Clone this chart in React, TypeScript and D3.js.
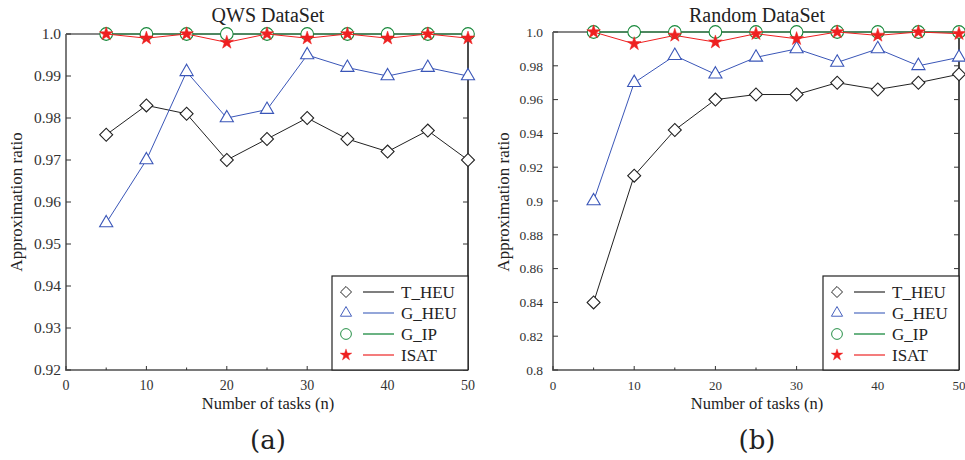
import * as d3 from "d3";

const TASKS = [5, 10, 15, 20, 25, 30, 35, 40, 45, 50];

// QWS DataSet
const QWS_T_HEU = [0.976, 0.983, 0.981, 0.970, 0.975, 0.980, 0.975, 0.972, 0.977, 0.970];
const QWS_G_HEU = [0.955, 0.970, 0.991, 0.980, 0.982, 0.995, 0.992, 0.990, 0.992, 0.990];
const QWS_G_IP = [1.0, 1.0, 1.0, 1.0, 1.0, 1.0, 1.0, 1.0, 1.0, 1.0];
const QWS_ISAT = [1.0, 0.999, 1.0, 0.998, 1.0, 0.999, 1.0, 0.999, 1.0, 0.999];

// Random DataSet
const RND_T_HEU = [0.84, 0.915, 0.942, 0.960, 0.963, 0.963, 0.970, 0.966, 0.970, 0.975];
const RND_G_HEU = [0.90, 0.970, 0.986, 0.975, 0.985, 0.990, 0.982, 0.990, 0.980, 0.985];
const RND_G_IP = [1.0, 1.0, 1.0, 1.0, 1.0, 1.0, 1.0, 1.0, 1.0, 1.0];
const RND_ISAT = [1.0, 0.993, 0.998, 0.994, 0.999, 0.996, 1.0, 0.998, 1.0, 0.999];

const X_TICKS = [0, 10, 20, 30, 40, 50];
const X_MINOR = [5, 15, 25, 35, 45];
const QWS_Y_TICKS = [0.92, 0.93, 0.94, 0.95, 0.96, 0.97, 0.98, 0.99, 1.0];
const RND_Y_TICKS = [0.8, 0.82, 0.84, 0.86, 0.88, 0.9, 0.92, 0.94, 0.96, 0.98, 1.0];

const SERIES = [
  { name: "T_HEU", color: "#222222", legendLine: "#555555", shape: "diamond" },
  { name: "G_HEU", color: "#3a56b8", legendLine: "#7088cc", shape: "triangle" },
  { name: "G_IP", color: "#17883a", legendLine: "#3a9a5a", shape: "circle" },
  { name: "ISAT", color: "#ee2020", legendLine: "#f05050", shape: "star" },
];

const FONT = "'Liberation Serif', 'Times New Roman', serif";

function markerPath(shape: string) {
  if (shape === "diamond") return d3.symbol(d3.symbolSquare, 84)()!;
  if (shape === "triangle") return d3.symbol(d3.symbolTriangle, 75)()!;
  if (shape === "circle") return d3.symbol(d3.symbolCircle, 126)()!;
  return d3.symbol(d3.symbolStar, 58)()!;
}

function Marker({ shape, color, x, y }: { shape: string; color: string; x: number; y: number }) {
  const rot = shape === "diamond" ? " rotate(45)" : "";
  const star = shape === "star";
  return (
    <path
      d={markerPath(shape)}
      transform={`translate(${x},${y})${rot}`}
      fill={star ? color : "white"}
      stroke={color}
      strokeWidth={star ? 0.5 : 1.1}
    />
  );
}

function Panel(props: {
  title: string;
  tag: string;
  left: number;
  right: number;
  top: number;
  bottom: number;
  yTicks: number[];
  yFont: number;
  xFont: number;
  labelX: number;
  data: number[][];
}) {
  const { left, right, top, bottom, yTicks } = props;
  const x = d3.scaleLinear().domain([0, 50]).range([left, right]);
  const y = d3.scaleLinear().domain([yTicks[0], 1.0]).range([bottom, top]);
  const line = d3
    .line<number>()
    .x((_, i) => x(TASKS[i]))
    .y((d) => y(d));
  const fmt = (d: number) => (d === 1 ? "1.0" : String(+d.toFixed(2)));
  const cx = (left + right) / 2 + 1;

  const lx = right - 136;
  const ly = 276;

  return (
    <g fontFamily={FONT} fill="#222">
      <text x={cx} y={22} fontSize={20} textAnchor="middle">{props.title}</text>

      {/* frame */}
      <line x1={left} x2={right} y1={top} y2={top} stroke="#111" strokeWidth={1.2} />
      <line x1={right} x2={right} y1={top} y2={bottom} stroke="#111" strokeWidth={1.5} />
      <line x1={left} x2={left} y1={top} y2={bottom} stroke="#7a7a7a" strokeWidth={2} />
      <line x1={left - 1} x2={right} y1={bottom} y2={bottom} stroke="#7a7a7a" strokeWidth={2} />

      {yTicks.map((t) => (
        <g key={t}>
          <line x1={left} x2={left + 5} y1={y(t)} y2={y(t)} stroke="#333" />
          <line x1={right - 5} x2={right} y1={y(t)} y2={y(t)} stroke="#333" />
          <text x={left - props.labelX} y={y(t)} dy="0.35em" fontSize={props.yFont} textAnchor="end" fill="#333">
            {fmt(t)}
          </text>
        </g>
      ))}
      {X_TICKS.map((t) => (
        <g key={t}>
          <line x1={x(t)} x2={x(t)} y1={bottom} y2={bottom - 4} stroke="#333" />
          <text x={x(t)} y={bottom + 20} fontSize={props.xFont} textAnchor="middle" fill="#333">
            {t}
          </text>
        </g>
      ))}
      {X_MINOR.map((t) => (
        <line key={t} x1={x(t)} x2={x(t)} y1={bottom} y2={bottom - 2.5} stroke="#333" />
      ))}

      <text x={cx} y={409} fontSize={16.5} textAnchor="middle">Number of tasks (n)</text>
      <text
        transform={`translate(${left - 44},${202}) rotate(-90)`}
        fontSize={17}
        textAnchor="middle"
      >
        Approximation ratio
      </text>
      <text x={cx} y={449} fontSize={26} textAnchor="middle" fontFamily="'DejaVu Serif', serif" fontWeight={300}>
        {props.tag}
      </text>

      {SERIES.map((s, si) => (
        <g key={s.name}>
          <path d={line(props.data[si])!} fill="none" stroke={s.color} strokeWidth={1} />
          {props.data[si].map((v, i) => (
            <Marker key={i} shape={s.shape} color={s.color} x={x(TASKS[i])} y={y(v)} />
          ))}
        </g>
      ))}

      {/* legend */}
      <rect x={lx} y={ly} width={right - lx} height={bottom - ly} fill="white" stroke="#222" strokeWidth={1.2} />
      {SERIES.map((s, i) => {
        const ry = ly + 16 + i * 21;
        return (
          <g key={s.name}>
            <g transform={`translate(${lx + 14},${ry}) scale(0.85)`}>
              <Marker shape={s.shape} color={s.color} x={0} y={0} />
            </g>
            <line x1={lx + 31} x2={lx + 62} y1={ry} y2={ry} stroke={s.legendLine} strokeWidth={1.5} />
            <text x={lx + 69} y={ry} dy="0.35em" fontSize={17} fill="#222">{s.name}</text>
          </g>
        );
      })}
    </g>
  );
}

export default function App() {
  return (
    <svg
      width={965}
      height={460}
      style={{ position: "absolute", left: 0, top: 0, background: "white" }}
    >
      <rect width={965} height={460} fill="white" />
      <Panel
        title="QWS DataSet"
        tag="(a)"
        left={66}
        right={468}
        top={34}
        bottom={370}
        yTicks={QWS_Y_TICKS}
        yFont={15.5}
        xFont={14}
        labelX={5}
        data={[QWS_T_HEU, QWS_G_HEU, QWS_G_IP, QWS_ISAT]}
      />
      <Panel
        title="Random DataSet"
        tag="(b)"
        left={553}
        right={959}
        top={32}
        bottom={370}
        yTicks={RND_Y_TICKS}
        yFont={13.5}
        xFont={13}
        labelX={10}
        data={[RND_T_HEU, RND_G_HEU, RND_G_IP, RND_ISAT]}
      />
    </svg>
  );
}
